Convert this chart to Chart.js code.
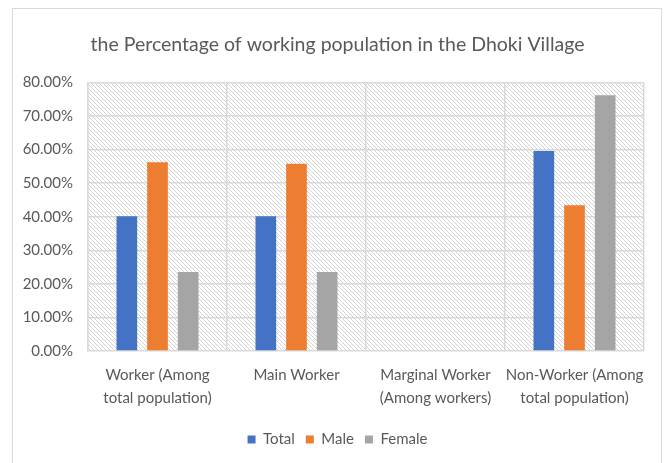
<!DOCTYPE html>
<html>
<head>
<meta charset="utf-8">
<script src="https://cdn.jsdelivr.net/npm/chart.js@4/dist/chart.umd.min.js"></script>
<style>
    html, body { margin: 0; padding: 0; background: #ffffff; }
    #wrap { width: 670px; height: 463px; }
</style>
</head>
<body>
<div id="wrap"><canvas id="workChart" width="670" height="463"></canvas></div>
<script>

/* =========================
   DATA
========================= */

const categories = [
    ['Worker (Among', 'total population)'],
    ['Main Worker'],
    ['Marginal Worker', '(Among workers)'],
    ['Non-Worker (Among', 'total population)']
];

const totalValues  = [40.1, 40.1, 0, 59.6];
const maleValues   = [56.2, 55.8, 0, 43.4];
const femaleValues = [23.5, 23.5, 0, 76.2];

const yTicks = [0, 10, 20, 30, 40, 50, 60, 70, 80];


/* =========================
   HATCH PATTERN + BORDER
========================= */

function makeHatch(){
    let c = document.createElement('canvas');
    c.width = 4;
    c.height = 4;
    let g = c.getContext('2d');
    g.fillStyle = '#ffffff';
    g.fillRect(0, 0, 4, 4);
    g.fillStyle = '#d3d3d3';
    for(let i = 0; i < 4; i++){
        g.fillRect(i, i, 1, 1);
    }
    return c;
}

const backgroundPlugin = {
    id: 'hatchBackground',

    beforeDraw(chart) {
        const { ctx, chartArea: { top, bottom, left, right } } = chart;

        ctx.save();

        // outer chart border
        ctx.strokeStyle = '#d9d9d9';
        ctx.lineWidth = 1;
        ctx.strokeRect(12.5, 8.5, 649, 470);

        // hatched plot area
        ctx.fillStyle = ctx.createPattern(makeHatch(), 'repeat');
        ctx.fillRect(left, top, right - left, bottom - top);

        ctx.restore();
    }
};


/* =========================
   CHART
========================= */

Chart.defaults.font.family = 'Lato, "Open Sans", sans-serif';
Chart.defaults.color = '#595959';

const ctx = document.getElementById('workChart');

let chart = new Chart(ctx, {

    type: 'bar',

    data: {
        labels: categories,
        datasets: [
            { label: 'Total',  data: totalValues,  backgroundColor: '#4472C4' },
            { label: 'Male',   data: maleValues,   backgroundColor: '#ED7D31' },
            { label: 'Female', data: femaleValues, backgroundColor: '#A5A5A5' }
        ]
    },

    options: {
        responsive: false,
        animation: false,

        layout: {
            padding: { left: 22, right: 17, top: 0, bottom: 6 }
        },

        datasets: {
            bar: {
                categoryPercentage: 0.662,
                barPercentage: 0.674,
                borderWidth: 0
            }
        },

        plugins: {
            title: {
                display: true,
                text: 'the Percentage of working population in the Dhoki Village',
                color: '#595959',
                font: { size: 19.5, weight: 'normal' },
                padding: { top: 33, bottom: 26 }
            },

            legend: {
                position: 'bottom',
                labels: {
                    boxWidth: 8,
                    boxHeight: 8,
                    padding: 11,
                    color: '#595959',
                    font: { size: 15 }
                }
            },

            tooltip: { enabled: false }
        },

        scales: {
            x: {
                grid: {
                    color: '#d9d9d9',
                    lineWidth: 1.5,
                    drawTicks: false
                },
                border: { display: false },
                ticks: {
                    maxRotation: 0,
                    autoSkip: false,
                    padding: 13,
                    color: '#595959',
                    font: { size: 15, lineHeight: 1.5 }
                },
                afterFit(scale) {
                    scale.height = 70;
                }
            },

            y: {
                min: 0,
                max: 80,
                grid: {
                    color: '#d9d9d9',
                    lineWidth: 1.5,
                    drawTicks: false
                },
                border: { display: true, color: '#d9d9d9', width: 1.5 },
                afterBuildTicks(scale) {
                    scale.ticks = yTicks.map(v => ({ value: v }));
                },
                ticks: {
                    padding: 15,
                    color: '#595959',
                    font: { size: 15 },
                    callback: function(value){
                        return value.toFixed(2) + '%';
                    }
                },
                afterFit(scale) {
                    scale.width = 66;
                }
            },

            // empty spacer on the right so the plot ends where the original does
            spacer: {
                type: 'linear',
                position: 'right',
                display: true,
                grid: { display: false },
                border: { display: false },
                ticks: { display: false },
                afterFit(scale) {
                    scale.width = 9;
                }
            }
        }
    },

    plugins: [backgroundPlugin]
});

</script>
</body>
</html>
